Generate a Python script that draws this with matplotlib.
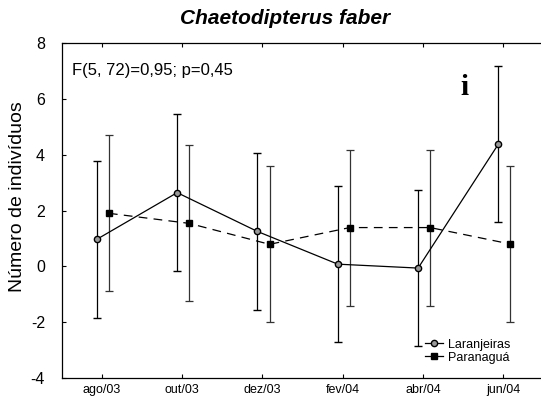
import numpy as np
import matplotlib.pyplot as plt
from matplotlib.lines import Line2D

plt.rcParams['font.family'] = ['Liberation Sans', 'DejaVu Sans']
plt.rcParams['axes.unicode_minus'] = False

meses = ["ago/03", "out/03", "dez/03", "fev/04", "abr/04", "jun/04"]
laranjeiras = [0.97, 2.64, 1.25, 0.08, -0.06, 4.38]
laranjeiras_err = [2.80, 2.80, 2.80, 2.80, 2.80, 2.80]
paranagua = [1.90, 1.54, 0.79, 1.39, 1.39, 0.80]
paranagua_err = [2.79, 2.79, 2.79, 2.79, 2.79, 2.79]

x = np.arange(1, len(meses) + 1)

fig = plt.figure(figsize=(5.41, 4.01), dpi=100)
ax = fig.add_axes([0.114, 0.057, 0.886, 0.836])

circ = dict(marker='o', ms=4.5, mfc='0.6', mec='black', mew=1.0)
quad = dict(marker='s', ms=5, mfc='black', mec='black')

ax.errorbar(x - 0.06, laranjeiras, yerr=laranjeiras_err, color='black', lw=0.9,
            ecolor='black', elinewidth=0.9, capsize=3, capthick=0.9, **circ)
ax.errorbar(x + 0.09, paranagua, yerr=paranagua_err, color='black', lw=0.9,
            ls=(0, (7, 5)), ecolor='0.2', elinewidth=0.9, capsize=3,
            capthick=0.9, **quad)

ax.set_xlim(0.502, 6.47)
ax.set_ylim(-4, 8)
ax.set_xticks(x)
ax.set_xticklabels(meses, fontsize=9)
ax.set_yticks(np.arange(-4, 9, 2))
ax.tick_params(axis='y', labelsize=11.5, direction='in', length=3, width=0.8, pad=12)
ax.tick_params(axis='x', direction='in', length=3, width=0.8, top=True, pad=4)
ax.spines['right'].set_visible(False)
for s in ['left', 'bottom', 'top']:
    ax.spines[s].set_linewidth(0.9)

ax.set_ylabel("Número de indivíduos", fontsize=14)
ax.yaxis.set_label_coords(-0.074, 0.54)

ax.text(0.63, 7.0, "F(5, 72)=0,95; p=0,45", fontsize=12, va='center')
ax.text(0.84, 0.867, "i", transform=ax.transAxes, fontsize=21,
        family='Liberation Serif', fontweight='bold', va='center', ha='center')

fig.text(285 / 541, 1 - 18 / 401, "Chaetodipterus faber", fontsize=15,
         fontweight='bold', style='italic', ha='center', va='center')

handles = [Line2D([], [], color='black', lw=0.9, **circ),
           Line2D([], [], color='black', lw=0.9, **quad)]
ax.legend(handles, ["Laranjeiras", "Paranaguá"], loc='upper left',
          bbox_to_anchor=(0.758, 0.118), fontsize=9, frameon=False,
          handlelength=1.4, handletextpad=0.4, labelspacing=0.1,
          borderpad=0, borderaxespad=0)

fig.savefig("out.png", dpi=100)
